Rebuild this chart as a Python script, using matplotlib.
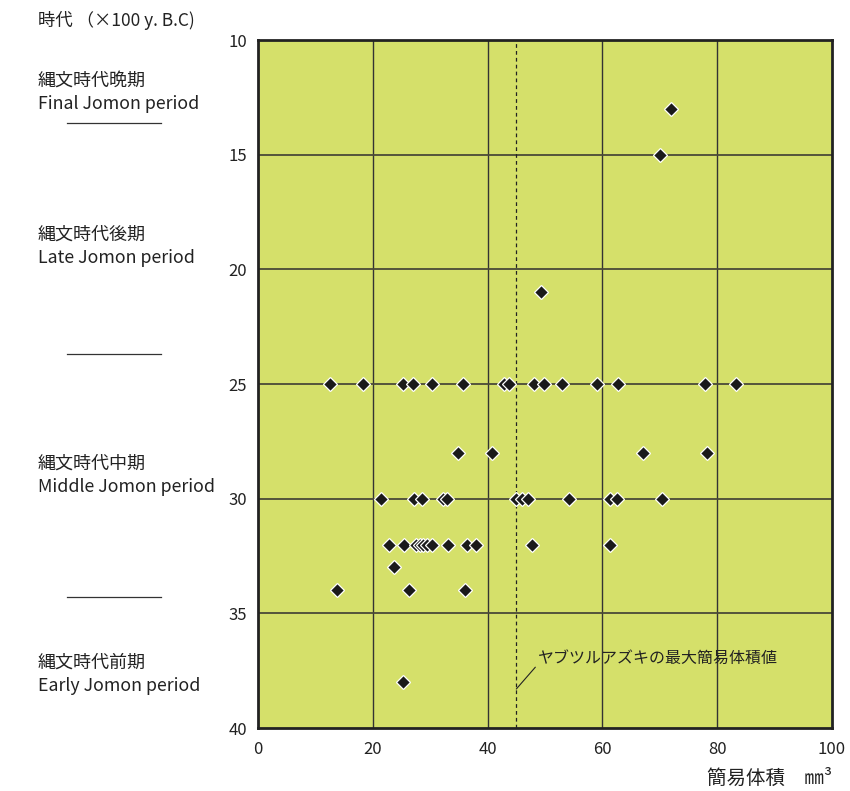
import matplotlib
matplotlib.use("Agg")
import matplotlib.pyplot as plt
import matplotlib.transforms as mtransforms

plt.rcParams['font.family'] = ['Noto Sans CJK JP', 'DejaVu Sans']

# data: (volume mm3, age x100 y BC)
x_vals = [72.0, 70.0, 49.3,
          12.6, 18.3, 25.2, 27.0, 30.4, 35.7, 42.9, 43.8, 48.1, 49.9, 52.9, 59.1, 62.8, 77.9, 83.2,
          34.9, 40.7, 67.1, 78.3,
          21.4, 27.1, 28.5, 32.3, 33.0, 44.9, 46.0, 47.1, 54.1, 61.3, 62.5, 70.3,
          22.9, 25.4, 27.6, 28.2, 28.8, 29.5, 30.3, 33.1, 36.4, 37.9, 47.8, 61.4,
          23.7,
          13.8, 26.3, 36.1,
          25.2]
y_vals = [13, 15, 21,
          25, 25, 25, 25, 25, 25, 25, 25, 25, 25, 25, 25, 25, 25, 25,
          28, 28, 28, 28,
          30, 30, 30, 30, 30, 30, 30, 30, 30, 30, 30, 30,
          32, 32, 32, 32, 32, 32, 32, 32, 32, 32, 32, 32,
          33,
          34, 34, 34,
          38]

x_ticks = [0, 20, 40, 60, 80, 100]
y_ticks = [10, 15, 20, 25, 30, 35, 40]
ref_value = 45
ref_label = "ヤブツルアズキの最大簡易体積値"

period_jp = ["縄文時代晩期", "縄文時代後期", "縄文時代中期", "縄文時代前期"]
period_en = ["Final Jomon period", "Late Jomon period", "Middle Jomon period", "Early Jomon period"]
period_label_y = [11.75, 18.5, 28.45, 37.15]
period_sep_y = [13.6, 23.7, 34.3]

fig = plt.figure(figsize=(8.5, 7.91), dpi=100)
ax = fig.add_axes([258/850, 1-728/791, (832-258)/850, (728-40)/791])
ax.set_facecolor('#D5E06A')

ax.set_xlim(0, 100)
ax.set_ylim(40, 10)
ax.set_xticks(x_ticks)
ax.set_yticks(y_ticks)
ax.tick_params(length=0, labelsize=12, colors='#222222')
ax.tick_params(axis='x', pad=9)
ax.tick_params(axis='y', pad=8)
ax.set_xticklabels([str(v) for v in x_ticks])

for xv in x_ticks[1:-1]:
    ax.axvline(xv, color='#333333', lw=1.0, zorder=1)
for yv in y_ticks[1:-1]:
    ax.axhline(yv, color='#4a4a38', lw=1.3, zorder=1)

ax.axvline(ref_value, color='#222222', lw=0.9, ls=(0, (3, 2.5)), zorder=1.5)

for s in ax.spines.values():
    s.set_linewidth(2.0)
    s.set_color('#222222')

ax.plot(x_vals, y_vals, ls='none', marker='D', ms=7, mfc='#1a1a1a', mec='white', mew=0.9, zorder=3)

ax.annotate(ref_label, xy=(ref_value, 38.3), xytext=(ref_value + 3.8, 36.95),
            fontsize=11.5, color='#222222', ha='left', va='center',
            arrowprops=dict(arrowstyle='-', color='#222222', lw=0.8, shrinkA=0, shrinkB=0,
                            relpos=(0.0, 0.15)))

# left labels
tr = mtransforms.blended_transform_factory(fig.transFigure, ax.transData)
for jp, en, yl in zip(period_jp, period_en, period_label_y):
    fig.text(38/850, yl, jp, transform=tr, fontsize=13, color='#222222', ha='left', va='center')
    fig.text(38/850, yl + 1.02, en, transform=tr, fontsize=12.8, color='#222222', ha='left', va='center')
for ys in period_sep_y:
    ax.plot([67/850, 161/850], [ys, ys], transform=tr, color='#333333', lw=0.9, clip_on=False)

fig.text(38/850, 1-20/791, "時代 （×100 y. B.C)", fontsize=12.5, color='#222222', ha='left', va='center')
fig.text(832/850, 1-778/791, "簡易体積　㎜³", fontsize=14, color='#222222', ha='right', va='center')

fig.savefig("out.png", dpi=100)
